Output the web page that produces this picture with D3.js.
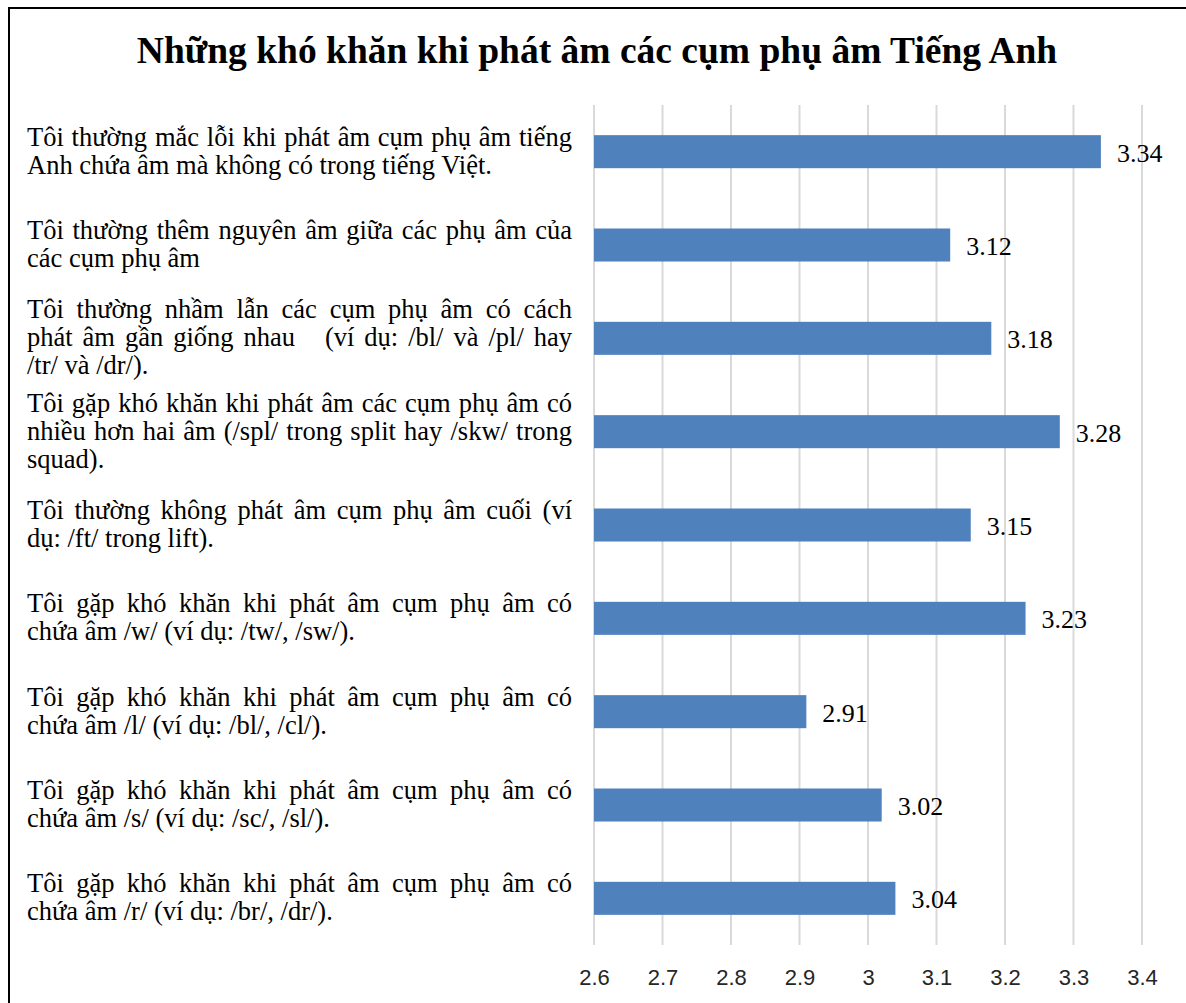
<!DOCTYPE html>
<meta charset="utf-8">
<style>
  body { margin: 0; background: #fff; }
  svg { display: block; }
</style>
<script src="https://d3js.org/d3.v7.min.js"></script>
<div id="chart"></div>
<script>

// data (label lines split with "|")
var categories = [
  "Tôi thường mắc lỗi khi phát âm cụm phụ âm tiếng|Anh chứa âm mà không có trong tiếng Việt.",
  "Tôi thường thêm nguyên âm giữa các phụ âm của|các cụm phụ âm",
  "Tôi thường nhầm lẫn các cụm phụ âm có cách|phát âm gần giống nhau   (ví dụ: /bl/ và /pl/ hay|/tr/ và /dr/).",
  "Tôi gặp khó khăn khi phát âm các cụm phụ âm có|nhiều hơn hai âm (/spl/ trong split hay /skw/ trong|squad).",
  "Tôi thường không phát âm cụm phụ âm cuối (ví|dụ: /ft/ trong lift).",
  "Tôi gặp khó khăn khi phát âm cụm phụ âm có|chứa âm /w/ (ví dụ: /tw/, /sw/).",
  "Tôi gặp khó khăn khi phát âm cụm phụ âm có|chứa âm /l/ (ví dụ: /bl/, /cl/).",
  "Tôi gặp khó khăn khi phát âm cụm phụ âm có|chứa âm /s/ (ví dụ: /sc/, /sl/).",
  "Tôi gặp khó khăn khi phát âm cụm phụ âm có|chứa âm /r/ (ví dụ: /br/, /dr/)."
];
var values = [3.34, 3.12, 3.18, 3.28, 3.15, 3.23, 2.91, 3.02, 3.04];
var ticks = [2.6, 2.7, 2.8, 2.9, 3.0, 3.1, 3.2, 3.3, 3.4];
var title = "Những khó khăn khi phát âm các cụm phụ âm Tiếng Anh";

var W = 1186, H = 1003;
var plot = {left: 594, right: 1142, top: 105, bottom: 945};
var labelLeft = 27, labelRight = 572;
var serif = "'Times New Roman', 'Liberation Serif', serif";

var svg = d3.select("#chart").append("svg")
    .attr("width", W)
    .attr("height", H);

// frame
svg.append("rect")
    .attr("x", 9).attr("y", 8)
    .attr("width", W + 20).attr("height", H + 20)
    .attr("fill", "none")
    .attr("stroke", "#000")
    .attr("stroke-width", 2);

// title
svg.append("text")
    .attr("x", 597)
    .attr("y", 63)
    .attr("text-anchor", "middle")
    .style("font-family", serif)
    .style("font-weight", "bold")
    .style("font-size", "37.5px")
    .text(title);

var x = d3.scaleLinear()
  .domain([2.6, 3.4])
  .range([plot.left, plot.right]);

var y = d3.scaleBand()
  .domain(categories)
  .range([plot.top, plot.bottom])
  .paddingInner(0.646)
  .paddingOuter(0.323);

// gridlines
svg.append("g")
  .selectAll("line")
  .data(ticks)
  .enter()
  .append("line")
    .attr("x1", function(d) { return x(d); })
    .attr("x2", function(d) { return x(d); })
    .attr("y1", plot.top)
    .attr("y2", plot.bottom)
    .attr("stroke", "#d9d9d9")
    .attr("stroke-width", 2);

// x axis tick labels
var xAxis = svg.append("g")
  .attr("transform", "translate(0," + plot.bottom + ")")
  .call(d3.axisBottom(x).tickValues(ticks).tickSize(0).tickPadding(24)
        .tickFormat(function(d) { return d3.format("")(d); }));
xAxis.select(".domain").remove();
xAxis.selectAll("text")
    .style("font-family", "'Liberation Sans', Arial, sans-serif")
    .style("font-size", "22px")
    .attr("fill", "#262626");

// bars
svg.selectAll("rect.bar")
  .data(values)
  .enter()
  .append("rect")
    .attr("class", "bar")
    .attr("x", x(2.6))
    .attr("y", function(d, i) { return y(categories[i]); })
    .attr("width", function(d) { return x(d) - x(2.6); })
    .attr("height", y.bandwidth())
    .attr("fill", "#4f81bd");

// value labels
svg.selectAll("text.val")
  .data(values)
  .enter()
  .append("text")
    .attr("class", "val")
    .attr("x", function(d) { return x(d) + 16; })
    .attr("y", function(d, i) { return y(categories[i]) + y.bandwidth() / 2 + 10; })
    .style("font-family", serif)
    .style("font-size", "26px")
    .text(function(d) { return d3.format(".2f")(d); });

// category labels, justified like the source document
var lineH = 28;
categories.forEach(function(c) {
  var lines = c.split("|");
  var mid = y(c) + y.bandwidth() / 2;
  var firstBase = mid - (lines.length - 1) * lineH / 2 + 8;
  lines.forEach(function(ln, j) {
    var t = svg.append("text")
        .attr("x", labelLeft)
        .attr("y", firstBase + j * lineH)
        .style("font-family", serif)
        .style("font-size", "26.5px")
        .style("white-space", "pre")
        .text(ln);
    if (j < lines.length - 1) {
      var len = t.node().getComputedTextLength();
      var spaces = (ln.match(/ /g) || []).length;
      if (spaces > 0) {
        t.style("word-spacing", ((labelRight - labelLeft - len) / spaces) + "px");
      }
    }
  });
});

</script>
